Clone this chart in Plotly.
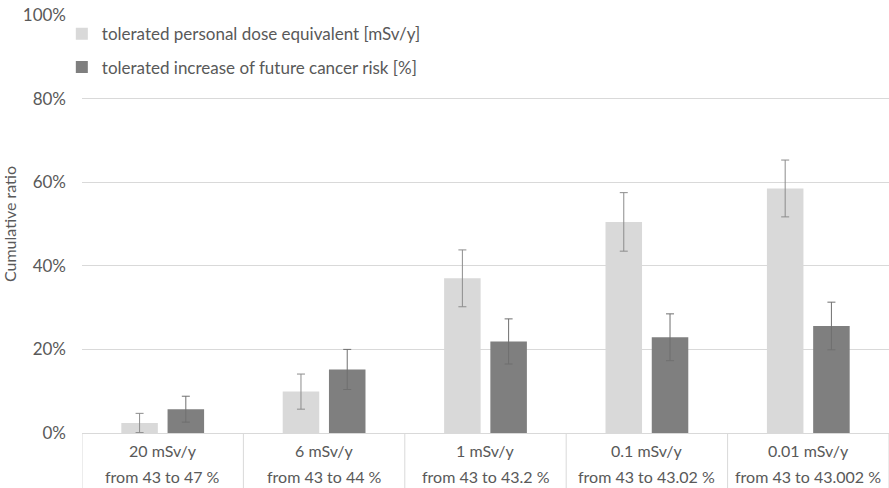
import plotly.graph_objects as go

dose_labels = ["20 mSv/y", "6 mSv/y", "1 mSv/y", "0.1 mSv/y", "0.01 mSv/y"]
risk_labels = ["from 43 to 47 %", "from 43 to 44 %", "from 43 to 43.2 %",
               "from 43 to 43.02 %", "from 43 to 43.002 %"]

dose_values = [2.4, 9.9, 37.0, 50.5, 58.5]
dose_errors = [2.3, 4.2, 6.8, 7.0, 6.8]
risk_values = [5.7, 15.2, 21.9, 22.9, 25.6]
risk_errors = [3.1, 4.8, 5.4, 5.6, 5.7]

series_names = ["tolerated personal dose equivalent [mSv/y]",
                "tolerated increase of future cancer risk [%]"]

font_family = "Lato, 'Open Sans', sans-serif"
text_color = "#595959"
grid_color = "#d9d9d9"

x_idx = list(range(len(dose_labels)))

fig = go.Figure()
fig.add_trace(go.Bar(
    x=x_idx, y=dose_values, name=series_names[0], legendgroup="a",
    marker=dict(color="#d9d9d9", line=dict(width=0)),
    error_y=dict(type="data", array=dose_errors, color="#8c8c8c", thickness=1, width=4),
))
fig.add_trace(go.Bar(
    x=x_idx, y=risk_values, name=series_names[1], legendgroup="b",
    marker=dict(color="#7f7f7f", line=dict(width=0)),
    error_y=dict(type="data", array=risk_errors, color="#6f6f6f", thickness=1, width=4),
))

shapes = []
for i in range(len(dose_labels) + 1):
    shapes.append(dict(type="line", xref="x", yref="paper", x0=i - 0.5, x1=i - 0.5,
                       y0=0, y1=-0.14, line=dict(color=grid_color, width=1)))

annotations = []
for i, (d, r) in enumerate(zip(dose_labels, risk_labels)):
    annotations.append(dict(x=i, y=-0.043, xref="x", yref="paper", text=d, showarrow=False,
                            font=dict(family=font_family, size=16, color=text_color),
                            xanchor="center", yanchor="middle"))
    annotations.append(dict(x=i, y=-0.104, xref="x", yref="paper", text=r, showarrow=False,
                            font=dict(family=font_family, size=16, color=text_color),
                            xanchor="center", yanchor="middle"))

fig.update_layout(
    width=889, height=488,
    margin=dict(l=78, r=0, t=15, b=55),
    paper_bgcolor="white", plot_bgcolor="white",
    barmode="group", bargap=0.427, bargroupgap=0.21,
    font=dict(family=font_family, size=16, color=text_color),
    showlegend=True,
    legend=dict(x=-0.025, y=0.997, xanchor="left", yanchor="top",
                bgcolor="rgba(0,0,0,0)", tracegroupgap=8,
                font=dict(family=font_family, size=17, color=text_color),
                itemwidth=30),
    xaxis=dict(range=[-0.5, 4.5], showticklabels=False, showgrid=False, zeroline=False,
               ticks="", showline=False, fixedrange=True),
    yaxis=dict(range=[0, 100], dtick=20, ticksuffix="%", showgrid=True, gridcolor=grid_color,
               gridwidth=1, zeroline=True, zerolinecolor=grid_color, zerolinewidth=1,
               showline=False, ticks="", ticklabelstandoff=15,
               title=dict(text="Cumulative ratio", standoff=12,
                          font=dict(family=font_family, size=16, color=text_color)),
               tickfont=dict(family=font_family, size=17, color=text_color)),
    shapes=shapes,
    annotations=annotations,
)

fig.write_html("out.html")
